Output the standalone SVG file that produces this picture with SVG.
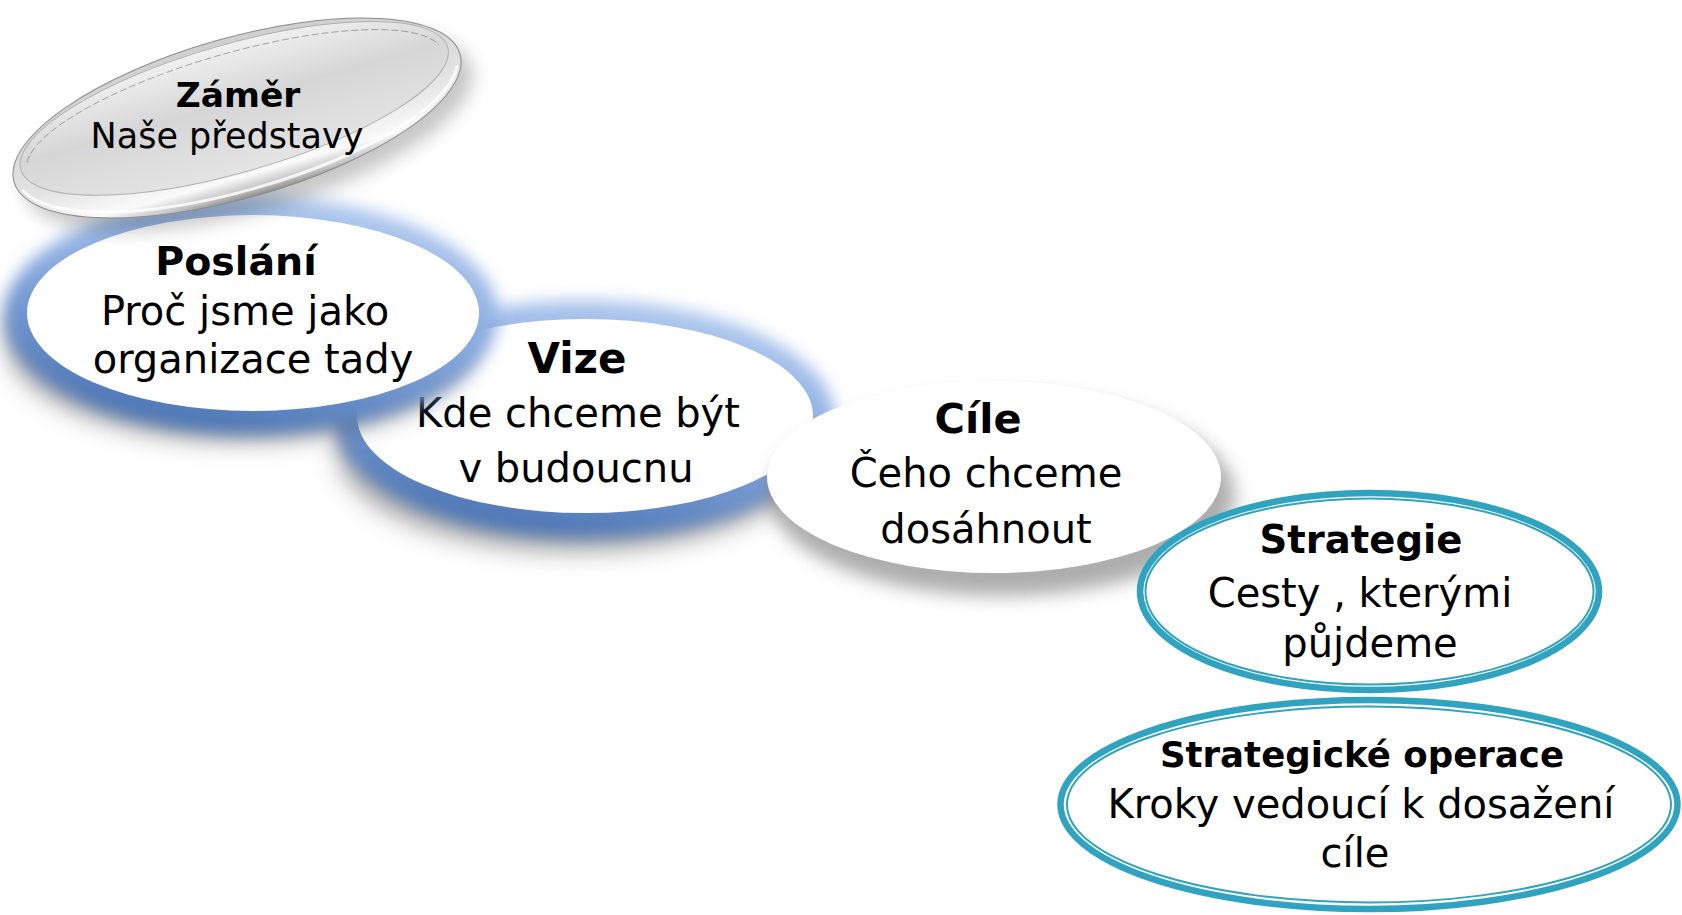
<svg xmlns="http://www.w3.org/2000/svg" width="1682" height="915" viewBox="0 0 1682 915">
<style>
text{font-family:"DejaVu Sans","Noto Sans",sans-serif;fill:#000;text-anchor:middle}
.t{font-weight:bold}
.r{font-size:40px}
.white{fill:#fff}
.ring{fill:#fff;stroke:#2fa3c0;stroke-width:6.5}
.ring2{fill:none;stroke:#2fa3c0;stroke-width:2}
</style>
<defs>
<filter id="blur8" x="-20%" y="-40%" width="140%" height="180%"><feGaussianBlur stdDeviation="8"/></filter>
<filter id="blur12" x="-20%" y="-40%" width="140%" height="180%"><feGaussianBlur stdDeviation="12"/></filter>
<filter id="blur9" x="-20%" y="-40%" width="140%" height="180%"><feGaussianBlur stdDeviation="9"/></filter>
<linearGradient id="glow" x1="0.7" y1="0" x2="0.3" y2="1">
<stop offset="0" stop-color="#b2cbef"/>
<stop offset="0.45" stop-color="#8aabe0"/>
<stop offset="1" stop-color="#4670b0"/>
</linearGradient>
<linearGradient id="rim" x1="0" y1="0" x2="0" y2="1">
<stop offset="0" stop-color="#cfcfcf"/>
<stop offset="0.6" stop-color="#e2e2e2"/>
<stop offset="0.86" stop-color="#fafafa"/>
<stop offset="0.95" stop-color="#c4c4c4"/>
<stop offset="1" stop-color="#8e8e8e"/>
</linearGradient>
<linearGradient id="face" x1="0" y1="0" x2="0" y2="1">
<stop offset="0" stop-color="#f0f0f0"/>
<stop offset="0.45" stop-color="#d6d6d6"/>
<stop offset="1" stop-color="#e4e4e4"/>
</linearGradient>
</defs>

<g id="vize">
<ellipse cx="575" cy="450" rx="238" ry="102" fill="#555" opacity="0.5" filter="url(#blur12)"/>
<ellipse cx="585" cy="419" rx="250" ry="119" fill="url(#glow)" filter="url(#blur8)"/>
<ellipse class="white" cx="585" cy="416" rx="228" ry="97"/>
<text class="t" x="577" y="373" font-size="42">Vize</text>
<text class="r" x="578" y="427">Kde chceme být</text>
<text class="r" x="576" y="482">v budoucnu</text>
</g>

<g id="cile">
<ellipse cx="1002" cy="495" rx="233" ry="101" fill="#777" opacity="0.6" filter="url(#blur9)"/>
<ellipse class="white" cx="994" cy="477" rx="227" ry="96"/>
<text class="t" x="978" y="433" font-size="41.5">Cíle</text>
<text class="r" x="986" y="487">Čeho chceme</text>
<text class="r" x="986" y="543">dosáhnout</text>
</g>

<g id="poslani">
<ellipse cx="240" cy="340" rx="234" ry="102" fill="#555" opacity="0.5" filter="url(#blur12)"/>
<ellipse cx="251" cy="315" rx="247" ry="119" fill="url(#glow)" filter="url(#blur8)"/>
<ellipse class="white" cx="253" cy="313" rx="226" ry="98"/>
<text class="t" x="236" y="275" font-size="39.5">Poslání</text>
<text class="r" x="245" y="325">Proč jsme jako</text>
<text class="r" x="253" y="373">organizace tady</text>
</g>

<g id="zamer">
<g transform="translate(237,118) rotate(-16)">
<ellipse cx="8" cy="16" rx="232" ry="80" fill="#000" opacity="0.22" filter="url(#blur9)"/>
<ellipse cx="0" cy="0" rx="232" ry="80" fill="url(#rim)" stroke="#8c8c8c" stroke-width="1"/>
<ellipse cx="0" cy="-10" rx="222" ry="64" fill="url(#face)" stroke="#b0b0b0" stroke-width="1"/>
<path d="M -214 -15 A 216 58 0 0 1 214 -15" fill="none" stroke="#6e6e6e" stroke-width="0.9" stroke-dasharray="7 3" opacity="0.6"/>
<path d="M -226 10 A 228 72 0 0 0 226 10" fill="none" stroke="#fff" stroke-width="3" opacity="0.8"/>
</g>
<text class="t" x="238" y="107" font-size="34.5">Záměr</text>
<text x="227" y="148" font-size="35">Naše představy</text>
</g>

<g id="strategie">
<ellipse class="ring" cx="1369.5" cy="591.5" rx="229.5" ry="98.5"/>
<ellipse class="ring2" cx="1369.5" cy="591.5" rx="224" ry="93"/>
<text class="t" x="1361" y="553" font-size="38.6">Strategie</text>
<text class="r" x="1360" y="607">Cesty , kterými</text>
<text class="r" x="1370" y="657">půjdeme</text>
</g>

<g id="operace">
<ellipse class="ring" cx="1369" cy="804.5" rx="308.5" ry="104.5" stroke-width="7"/>
<ellipse class="ring2" cx="1369" cy="804.5" rx="302" ry="98"/>
<text class="t" x="1362" y="767" font-size="35.6">Strategické operace</text>
<text class="r" x="1361" y="818" font-size="41">Kroky vedoucí k dosažení</text>
<text class="r" x="1355" y="867">cíle</text>
</g>

<g id="connectors"/>
</svg>
